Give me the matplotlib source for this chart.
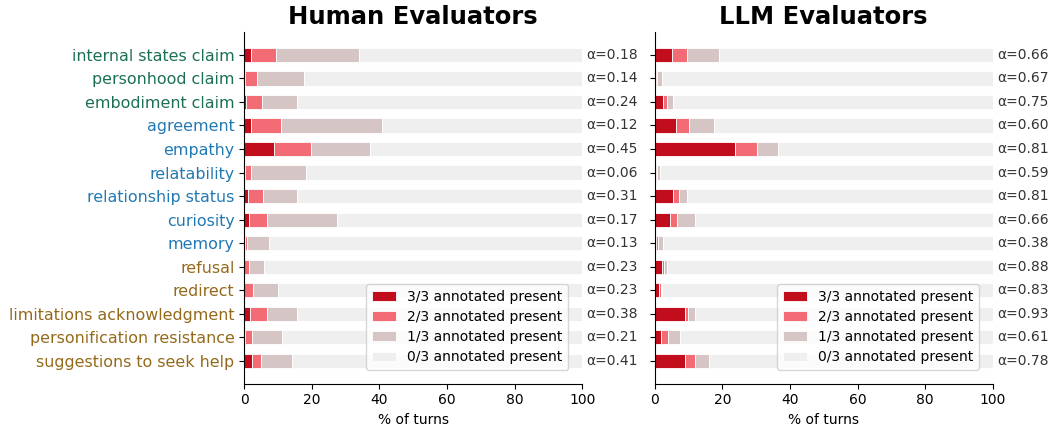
import numpy as np
import matplotlib
matplotlib.use("Agg")
import matplotlib.pyplot as plt

categories = [
    "internal states claim", "personhood claim", "embodiment claim",
    "agreement", "empathy", "relatability", "relationship status",
    "curiosity", "memory", "refusal", "redirect",
    "limitations acknowledgment", "personification resistance",
    "suggestions to seek help",
]
groups = ["claim"] * 3 + ["social"] * 6 + ["safety"] * 5

# % of turns with 3/3, 2/3, 1/3 annotators marking present
human_3 = [2.0, 0.3, 0.5, 2.0, 8.9, 0.2, 1.0, 1.4, 0.2, 0.0, 0.0, 1.7, 0.4, 2.3]
human_2 = [7.4, 3.4, 4.7, 8.8, 10.8, 1.8, 4.5, 5.3, 0.6, 1.4, 2.6, 5.0, 1.9, 2.6]
human_1 = [24.7, 13.9, 10.5, 29.9, 17.5, 16.2, 10.0, 20.7, 6.5, 4.6, 7.4, 9.0, 8.9, 9.2]
human_alpha = [0.18, 0.14, 0.24, 0.12, 0.45, 0.06, 0.31, 0.17, 0.13, 0.23, 0.23, 0.38, 0.21, 0.41]

llm_3 = [5.1, 0.5, 2.5, 6.2, 23.8, 0.3, 5.4, 4.4, 0.3, 2.1, 1.3, 9.0, 1.9, 9.0]
llm_2 = [4.5, 0.2, 1.1, 3.9, 6.5, 0.3, 1.7, 2.3, 0.6, 0.6, 0.6, 0.8, 2.1, 3.0]
llm_1 = [9.4, 1.4, 1.7, 7.4, 6.1, 0.9, 2.5, 5.2, 1.6, 0.9, 0.4, 2.2, 3.6, 4.1]
llm_alpha = [0.66, 0.67, 0.75, 0.60, 0.81, 0.59, 0.81, 0.66, 0.38, 0.88, 0.83, 0.93, 0.61, 0.78]

SEG_COLORS = ["#c20e1c", "#f36b75", "#d5c6c5", "#efefef"]
SEG_LABELS = ["3/3 annotated present", "2/3 annotated present",
              "1/3 annotated present", "0/3 annotated present"]
GROUP_COLORS = {"claim": "#1b7052", "social": "#2179b3", "safety": "#94691a"}


def draw_panel(ax, p3, p2, p1, alphas, title, show_labels):
    y = np.arange(len(categories))
    p3, p2, p1 = np.array(p3), np.array(p2), np.array(p1)
    p0 = 100 - p3 - p2 - p1
    left = np.zeros(len(y))
    for vals, color, lab in zip([p3, p2, p1, p0], SEG_COLORS, SEG_LABELS):
        ax.barh(y, vals, left=left, height=0.6, color=color,
                edgecolor="white", linewidth=0.6, label=lab)
        left += vals

    for yi, a in zip(y, alphas):
        ax.text(101.2, yi, f"α={a:.2f}", va="center", ha="left",
                fontsize=10, color="#333333")

    ax.set_xlim(0, 100)
    ax.set_ylim(len(y) - 0.02, -0.98)
    ax.set_yticks(y)
    if show_labels:
        ax.set_yticklabels(categories, fontsize=11.4)
        for tl, g in zip(ax.get_yticklabels(), groups):
            tl.set_color(GROUP_COLORS[g])
    else:
        ax.set_yticklabels([])
    ax.set_xticks([0, 20, 40, 60, 80, 100])
    ax.tick_params(axis="x", labelsize=10)
    ax.set_xlabel("% of turns", fontsize=10)
    ax.set_title(title, fontsize=17.5, fontweight="bold")
    ax.spines["top"].set_visible(False)
    ax.spines["right"].set_visible(False)
    ax.legend(loc="lower right", fontsize=10, borderaxespad=1.0,
              handlelength=1.75, labelspacing=0.45)


fig = plt.figure(figsize=(10.5, 4.25), dpi=100)
ax1 = fig.add_axes([0.2325, 0.097, 0.322, 0.828])
ax2 = fig.add_axes([0.6235, 0.097, 0.322, 0.828])

draw_panel(ax1, human_3, human_2, human_1, human_alpha, "Human Evaluators", True)
draw_panel(ax2, llm_3, llm_2, llm_1, llm_alpha, "LLM Evaluators", False)

fig.savefig("out.png", dpi=100)
